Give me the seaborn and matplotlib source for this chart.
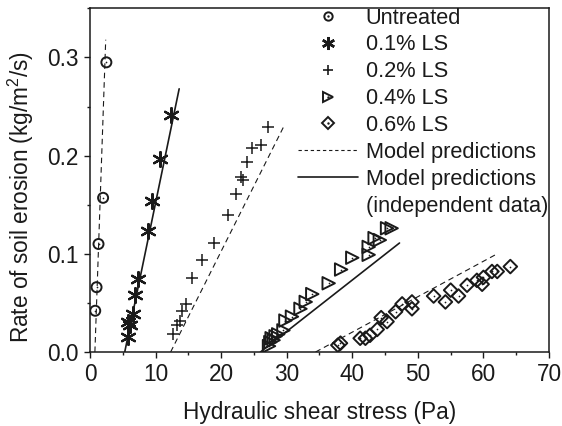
#!/usr/bin/env python3
import matplotlib
matplotlib.use('Agg')
import matplotlib.pyplot as plt
from matplotlib.lines import Line2D
from matplotlib.ticker import MultipleLocator, FormatStrFormatter
import seaborn as sns

# Measured erosion rates (x: shear stress Pa, y: kg/m2/s)
untreated_x = [0.8, 1.0, 1.3, 2.0, 2.5]
untreated_y = [0.042, 0.066, 0.110, 0.157, 0.295]

ls01_x = [5.85, 5.8, 6.1, 6.6, 6.9, 7.3, 8.8, 9.4, 10.7, 12.3]
ls01_y = [0.015, 0.031, 0.027, 0.039, 0.058, 0.074, 0.123, 0.154, 0.197, 0.241]

ls02_x = [12.7, 13.2, 13.7, 14.1, 14.65, 15.6, 17.1, 18.9, 21.0, 22.2,
          23.05, 23.4, 23.9, 24.7, 26.1, 27.1]
ls02_y = [0.018, 0.027, 0.032, 0.042, 0.049, 0.075, 0.094, 0.111, 0.140, 0.161,
          0.178, 0.175, 0.193, 0.208, 0.211, 0.229]

ls04_x = [27.3, 27.5, 27.7, 28.0, 28.3, 28.7, 29.5, 29.8, 30.8, 32.1, 32.9,
          33.9, 36.4, 38.3, 40.0, 42.5, 42.5, 43.4, 44.2, 45.3, 46.0]
ls04_y = [0.006, 0.010, 0.014, 0.012, 0.016, 0.018, 0.022, 0.032, 0.036, 0.044, 0.051,
          0.059, 0.070, 0.084, 0.096, 0.099, 0.107, 0.116, 0.114, 0.126, 0.126]

ls06_x = [37.8, 38.2, 41.2, 42.0, 42.7, 43.8, 44.4, 45.3, 46.6, 47.6, 49.1, 49.1,
          52.4, 54.2, 55.0, 56.2, 57.5, 59.0, 59.8, 60.0, 61.3, 62.1, 64.1]
ls06_y = [0.007, 0.009, 0.014, 0.014, 0.017, 0.023, 0.035, 0.031, 0.041, 0.049, 0.051, 0.044,
          0.057, 0.051, 0.063, 0.057, 0.068, 0.073, 0.069, 0.076, 0.082, 0.082, 0.087]

# Model prediction lines (end points)
untreated_fit_x = [0.75, 2.4]
untreated_fit_y = [0.0, 0.318]
ls01_fit_x = [5.3, 13.6]
ls01_fit_y = [0.0, 0.268]
ls02_fit_x = [12.3, 29.5]
ls02_fit_y = [0.0, 0.229]
ls04_fit_x = [26.0, 47.2]
ls04_fit_y = [0.0, 0.111]
ls06_fit_x = [34.4, 62.1]
ls06_fit_y = [0.0, 0.100]

legend_labels = ['Untreated', '0.1% LS', '0.2% LS', '0.4% LS', '0.6% LS',
                 'Model predictions', 'Model predictions', '(independent data)']

sns.set_theme(style='ticks')
plt.rcParams['font.family'] = ['Liberation Sans', 'DejaVu Sans']
plt.rcParams['mathtext.default'] = 'regular'

fig = plt.figure(figsize=(5.62, 4.26), dpi=100)
ax = fig.add_axes([0.1601, 0.1737, 0.9769 - 0.1601, 0.9805 - 0.1737])

dash = (0, (5, 3.5))
sns.lineplot(x=untreated_fit_x, y=untreated_fit_y, ax=ax, color='k', lw=0.8, linestyle=dash)
sns.lineplot(x=ls02_fit_x, y=ls02_fit_y, ax=ax, color='k', lw=0.8, linestyle=dash)
sns.lineplot(x=ls06_fit_x, y=ls06_fit_y, ax=ax, color='k', lw=0.8, linestyle=dash)
sns.lineplot(x=ls01_fit_x, y=ls01_fit_y, ax=ax, color='k', lw=1.2)
sns.lineplot(x=ls04_fit_x, y=ls04_fit_y, ax=ax, color='k', lw=1.2)

mew = 1.4
star = (6, 2, 0)
sns.scatterplot(x=untreated_x, y=untreated_y, ax=ax, marker='o', s=52,
                facecolors='none', edgecolor='k', linewidth=mew, zorder=3)
sns.scatterplot(x=ls01_x, y=ls01_y, ax=ax, marker=star, s=115, color='k',
                linewidth=1.6, zorder=3)
sns.scatterplot(x=ls02_x, y=ls02_y, ax=ax, marker='+', s=80, color='k',
                linewidth=1.1, zorder=3)
sns.scatterplot(x=ls04_x, y=ls04_y, ax=ax, marker='>', s=80,
                facecolors='none', edgecolor='k', linewidth=mew, zorder=3)
sns.scatterplot(x=ls06_x, y=ls06_y, ax=ax, marker='D', s=48,
                facecolors='none', edgecolor='k', linewidth=mew, zorder=3)
# centre dots of the open markers
for xs, ys in [(untreated_x, untreated_y), (ls04_x, ls04_y), (ls06_x, ls06_y)]:
    sns.scatterplot(x=xs, y=ys, ax=ax, marker='o', s=1.5, color='k',
                    linewidth=0, zorder=4)

ax.set_xlim(0, 70)
ax.set_ylim(0, 0.35)
ax.xaxis.set_major_locator(MultipleLocator(10))
ax.xaxis.set_minor_locator(MultipleLocator(5))
ax.yaxis.set_major_locator(MultipleLocator(0.1))
ax.yaxis.set_minor_locator(MultipleLocator(0.05))
ax.yaxis.set_major_formatter(FormatStrFormatter('%.1f'))
ax.tick_params(which='major', direction='out', length=4.5, width=1, labelsize=16.3,
               color='k', labelcolor='k')
ax.tick_params(which='minor', direction='out', length=2.5, width=1, color='k')
for sp in ax.spines.values():
    sp.set_visible(True)
    sp.set_linewidth(1.1)
    sp.set_color('k')

ax.set_xlabel('Hydraulic shear stress (Pa)', fontsize=16.3, color='k', labelpad=10.5)
ax.set_ylabel('Rate of soil erosion (kg/m$^2$/s)', fontsize=16.3, color='k', labelpad=8.5)
ax.yaxis.label.set_y(0.45)

# Legend
dot = Line2D([], [], ls='none', marker='o', ms=1.0, color='k')
h_untr = Line2D([], [], ls='none', marker='o', ms=8, mfc='none', mec='k', mew=mew)
h_01 = Line2D([], [], ls='none', marker=star, ms=12.5, color='k', mew=1.8)
h_02 = Line2D([], [], ls='none', marker='+', ms=10, color='k', mew=1.2)
h_04 = Line2D([], [], ls='none', marker='>', ms=9.5, mfc='none', mec='k', mew=mew)
h_06 = Line2D([], [], ls='none', marker='D', ms=7.5, mfc='none', mec='k', mew=mew)
h_dash = Line2D([], [], color='k', lw=0.8, linestyle=(0, (3, 2.5)))
h_solid = Line2D([], [], color='k', lw=1.2)
h_blank = Line2D([], [], color='none')
handles = [(h_untr, dot), h_01, h_02, (h_04, dot), (h_06, dot), h_dash, h_solid, h_blank]
leg = ax.legend(handles, legend_labels, loc='upper left', frameon=False,
                bbox_to_anchor=(298 / 562, 1 - 7.5 / 426), bbox_transform=fig.transFigure,
                fontsize=15.7, handlelength=2.75, handletextpad=0.35,
                labelspacing=0.27, borderpad=0, borderaxespad=0, markerscale=0.75)
for t in leg.get_texts():
    t.set_color('k')

fig.savefig('out.png', dpi=100)
